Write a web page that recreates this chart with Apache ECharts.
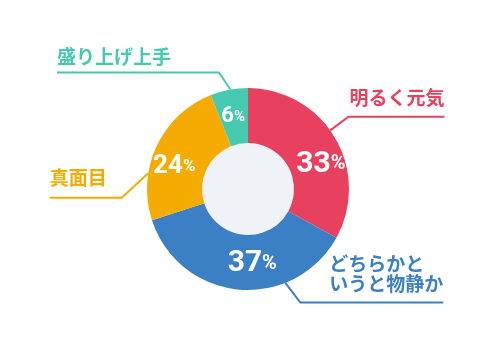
<!DOCTYPE html>
<html><head><meta charset="utf-8">
<script src="https://cdn.jsdelivr.net/npm/echarts@6/dist/echarts.min.js"></script>
<style>html,body{margin:0;padding:0;background:#fff}#c{width:500px;height:345px}</style>
</head><body><div id="c"></div>
<script>
// ---- data ----
const categories = ['明るく元気', 'どちらかと\nいうと物静か', '真面目', '盛り上げ上手'];
const values = [33, 37, 24, 6];
const colors = ['#E8415F', '#3B80C4', '#F6AB00', '#45C9B0'];

// ---- layout / style ----
const CX = 248, CY = 189, R0 = 46, R = 101;
const FONT_JP = '"Noto Sans CJK JP", "Noto Sans", sans-serif';
const FONT_NUM = 'Roboto, "Noto Sans", sans-serif';
const pctSize = [[30, 20], [30, 20], [26, 17], [22, 15]];
const pctOffset = [[7, 14], [11.5, -1.5], [-4.5, 10.5], [-0.5, 3]];
const callout = [
  {angle: 35.5, dx: 18.3, dy: -13.6, len: 96, side: 'right', gap: 9},
  {angle: -68.3, dx: 15, dy: 19.7, len: 143, side: 'right', gap: 9},
  {angle: 171, dx: -26.5, dy: 24.5, len: 72, side: 'left', gap: 10},
  {angle: 100, dx: -11.5, dy: -17, len: 162, side: 'left', gap: 6}
];

const rich = {};
pctSize.forEach((s, i) => {
  rich['n' + i] = {fontSize: s[0], fontWeight: 'bold', color: '#fff', fontFamily: FONT_NUM};
  rich['p' + i] = {fontSize: s[1], fontWeight: 'bold', color: '#fff', fontFamily: FONT_NUM};
});

const pieData = categories.map((c, i) => ({name: c, value: values[i], itemStyle: {color: colors[i]}}));
const calloutData = categories.map((c, i) => ({
  name: c, value: values[i],
  itemStyle: {color: 'rgba(0,0,0,0)'},
  label: {color: colors[i]},
  labelLine: {lineStyle: {color: colors[i]}}
}));

const chart = echarts.init(document.getElementById('c'), null, {renderer: 'canvas'});
chart.setOption({
  animation: false,
  series: [
    {
      type: 'pie', center: [CX, CY], radius: [0, R0], silent: true,
      startAngle: 90, label: {show: false}, labelLine: {show: false},
      data: [{value: 1, itemStyle: {color: '#EFF2F7'}}]
    },
    {
      type: 'pie', center: [CX, CY], radius: [R0, R], startAngle: 90, clockwise: true,
      avoidLabelOverlap: false, silent: true,
      label: {
        show: true, position: 'inside',
        formatter: p => `{n${p.dataIndex}|${p.value}}{p${p.dataIndex}|%}`,
        rich: rich
      },
      labelLayout: p => ({dx: pctOffset[p.dataIndex][0], dy: pctOffset[p.dataIndex][1]}),
      labelLine: {show: false},
      data: pieData
    },
    {
      type: 'pie', center: [CX, CY], radius: [R0, R], startAngle: 90, clockwise: true,
      avoidLabelOverlap: false, silent: true, z: 3,
      label: {
        show: true, position: 'outside', fontFamily: FONT_JP, fontSize: 19,
        fontWeight: 'bold', lineHeight: 20, formatter: '{b}', align: 'left'
      },
      labelLine: {show: true, length: 10, length2: 10, smooth: false, lineStyle: {width: 2}},
      labelLayout: function (p) {
        const s = callout[p.dataIndex];
        const a = s.angle * Math.PI / 180;
        const x0 = CX + R * Math.cos(a), y0 = CY - R * Math.sin(a);
        const x1 = x0 + s.dx, y1 = y0 + s.dy;
        const x2 = s.side === 'right' ? x1 + s.len : x1 - s.len;
        return {
          x: s.side === 'right' ? x2 - p.labelRect.width : x2,
          y: y1 - s.gap,
          align: 'left',
          verticalAlign: 'bottom',
          labelLinePoints: [[x0, y0], [x1, y1], [x2, y1]]
        };
      },
      data: calloutData
    }
  ]
});
</script></body></html>
